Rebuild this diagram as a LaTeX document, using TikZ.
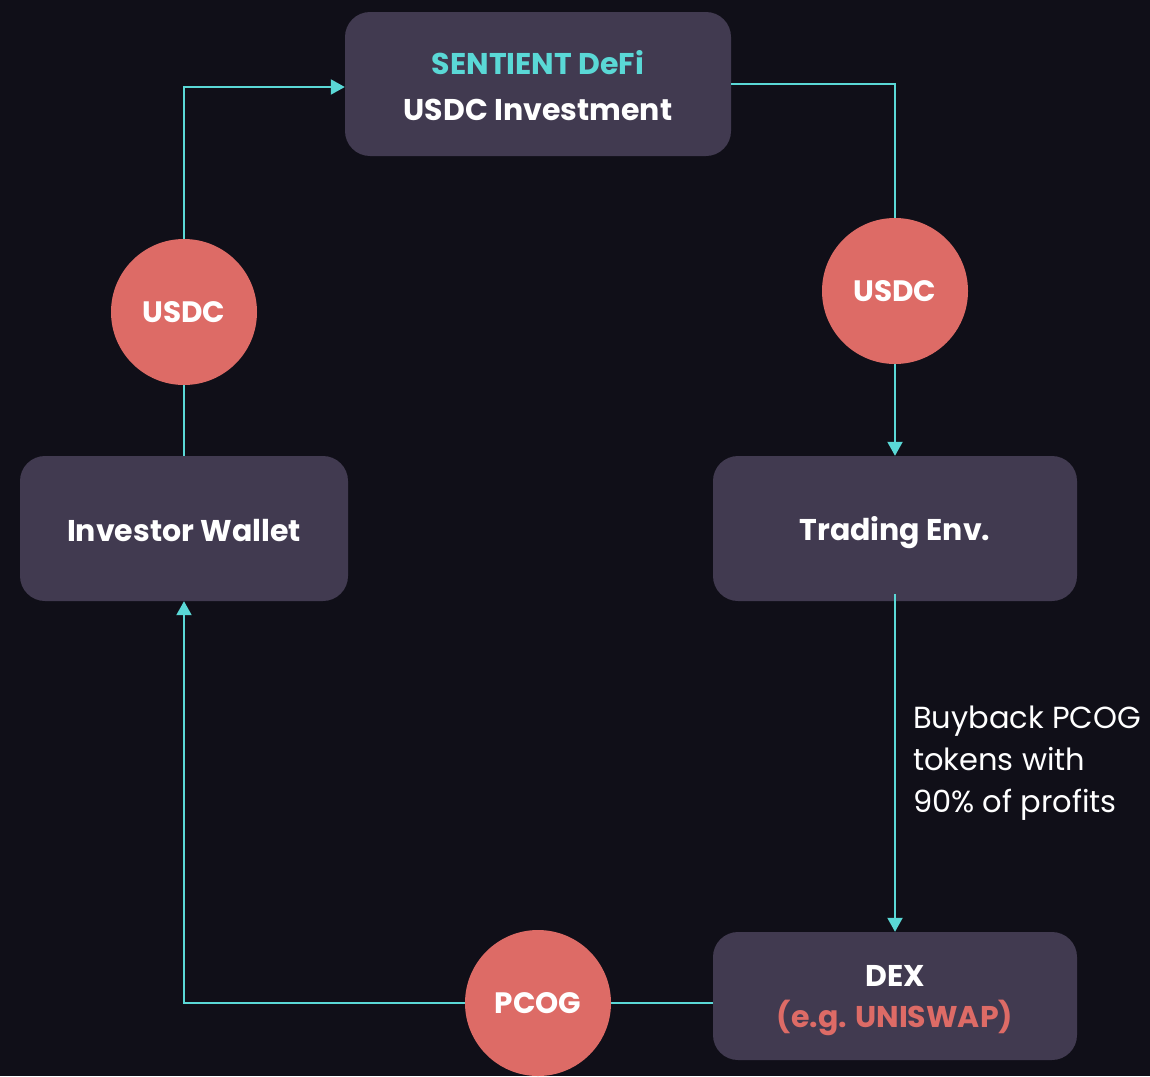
\documentclass[tikz,border=0pt]{standalone}
\usepackage{fontspec}
\setmainfont{Poppins}
\usetikzlibrary{arrows.meta}
\definecolor{bgc}{HTML}{100F18}
\definecolor{boxc}{HTML}{413A50}
\definecolor{redc}{HTML}{DD6B66}
\definecolor{cyanc}{HTML}{5AD8D6}
\tikzset{
  card/.style={draw=none,fill=boxc,rounded corners=25pt,inner sep=0pt},
  token/.style={circle,fill=redc,minimum size=146pt,inner sep=0pt,text=white,font=\fontsize{29.5}{34}\selectfont\bfseries},
  lbl/.style={font=\fontsize{30}{34}\selectfont\bfseries,text=white,inner sep=0pt},
  flow/.style={draw=cyanc,line width=2pt,-{Triangle[length=14pt,width=15pt]}},
  flowplain/.style={draw=cyanc,line width=2pt}
}
\begin{document}
\begin{tikzpicture}[x=1pt,y=-1pt]
\fill[bgc] (0,0) rectangle (1150,1076);
\useasboundingbox (0,0) rectangle (1150,1076);
\node[card,minimum width=386pt,minimum height=144pt] (top) at (538,84) {};
\node[card,minimum width=328pt,minimum height=145pt] (wallet) at (184,528.5) {};
\node[card,minimum width=364pt,minimum height=145pt] (trade) at (895,528.5) {};
\node[card,minimum width=364pt,minimum height=128pt] (dex) at (895,996) {};
\coordinate (c1) at (184,87);
\coordinate (c2) at (895,84);
\coordinate (c3) at (184,1003);
\coordinate (m2) at (895,300);
\draw[flow] (wallet.north) -- (c1) -- (top.west |- c1);
\draw[flowplain] (top.east |- c2) -- (c2) -- (m2);
\draw[flow] (m2) -- (trade.north);
\draw[flow] ([yshift=7pt]trade.south) -- (dex.north);
\draw[flow] (dex.west |- c3) -- (c3) -- (wallet.south);
\node[token] (u1) at (184,312) {USDC};
\node[token] (u2) at (895,291) {USDC};
\node[token] (pc) at (538,1003) {PCOG};
\node[lbl,text=cyanc] (t1) at (538,63) {SENTIENT DeFi};
\node[lbl] (t2) at (538,110) {USDC Investment};
\node[lbl] (t3) at (184,531) {Investor Wallet};
\node[lbl] (t4) at (895,533) {Trading Env.};
\node[lbl] (t5) at (895,976) {DEX};
\node[lbl,text=redc] (t6) at (895,1018) {(e.g. UNISWAP)};
\node[font=\fontsize{30.5}{42}\selectfont,text=white,align=left,anchor=north west,inner sep=0pt] (t7) at (913,706) {Buyback PCOG\\tokens with\\90\% of profits};
\end{tikzpicture}
\end{document}
